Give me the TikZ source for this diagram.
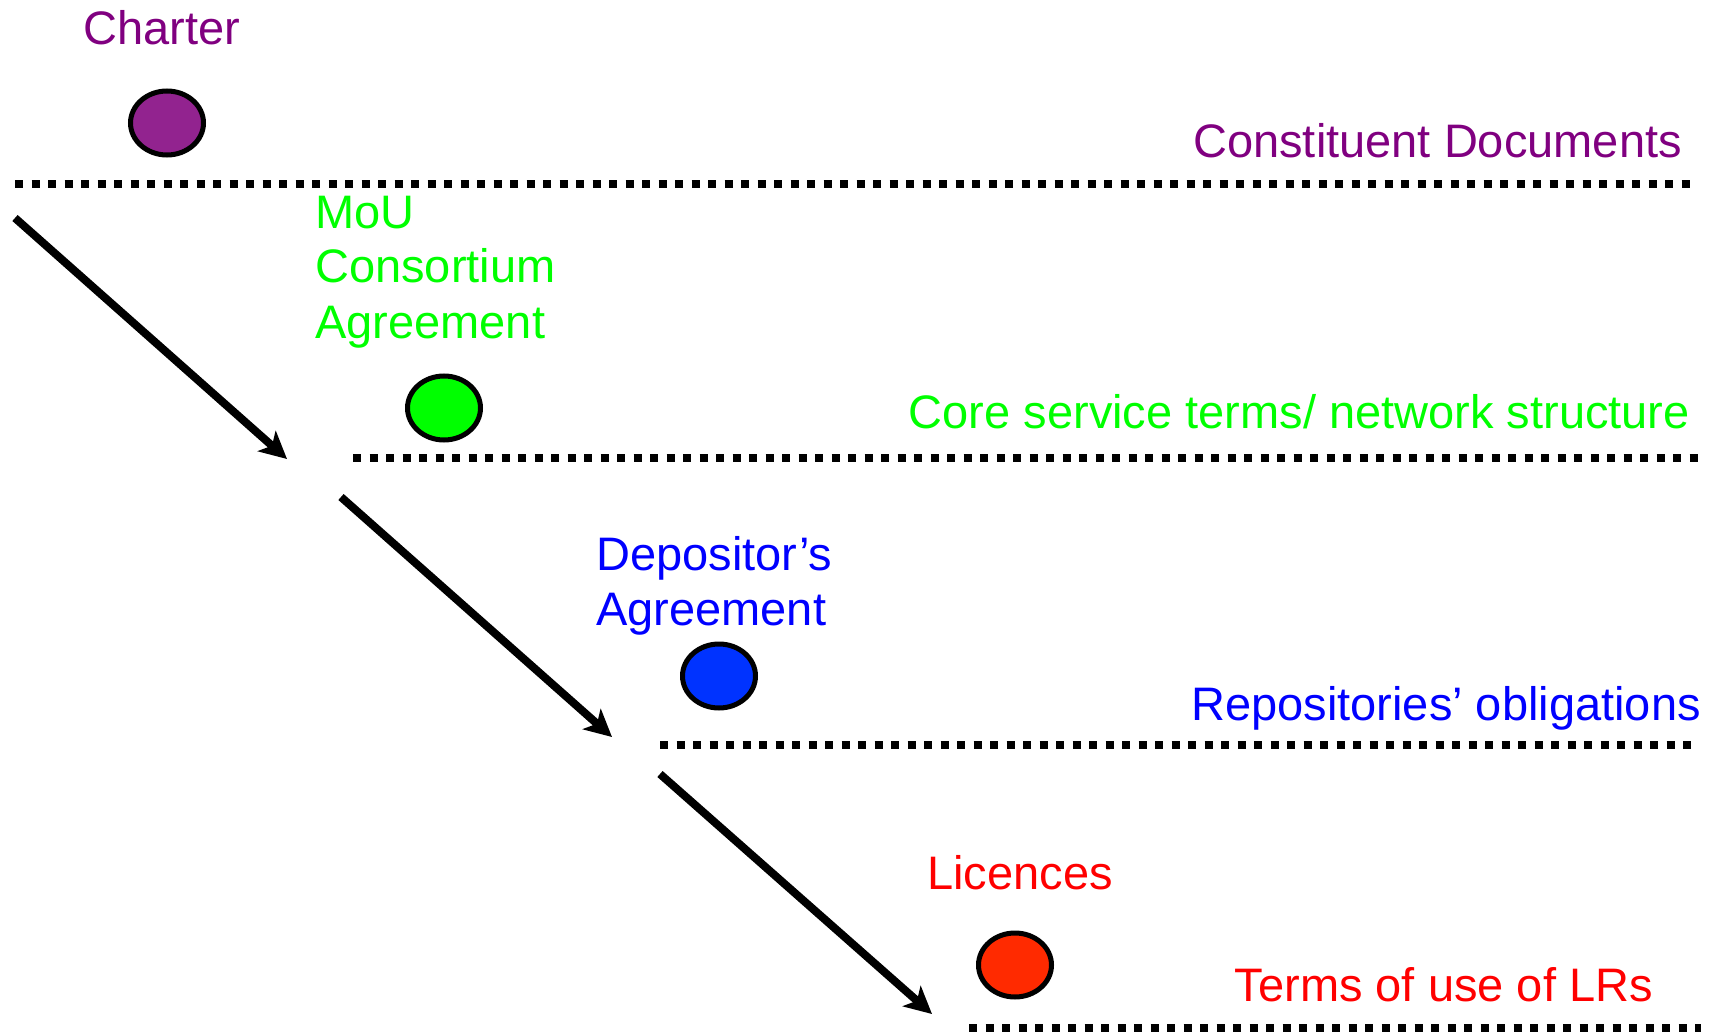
\documentclass[tikz,border=0pt]{standalone}
\usepackage{fontspec}
\setmainfont{Liberation Sans}
\usetikzlibrary{arrows.meta,shapes.geometric}
\definecolor{cpurple}{RGB}{128,0,128}
\definecolor{fpurple}{RGB}{146,35,143}
\definecolor{cgreen}{RGB}{0,255,0}
\definecolor{cblue}{RGB}{0,0,255}
\definecolor{fblue}{RGB}{0,51,255}
\definecolor{cred}{RGB}{255,0,0}
\definecolor{fred}{RGB}{255,42,0}
\tikzset{
  lbl/.style={inner sep=0pt, font=\fontsize{47}{54.5}\selectfont, align=left},
  dot/.style={draw=black, line width=5pt, ellipse, minimum width=73pt, minimum height=64pt, inner sep=0pt},
  sep/.style={line width=8pt, dash pattern=on 8pt off 8.5pt},
  flow/.style={line width=8pt, -{Stealth[length=27pt,width=27pt,inset=7pt]}}
}
\begin{document}
\begin{tikzpicture}[x=1pt,y=-1pt]
\useasboundingbox (0,0) rectangle (1719,1032);
% separator lines
\coordinate (s1a) at (15,184);  \coordinate (s1b) at (1697,184);
\coordinate (s2a) at (353,458); \coordinate (s2b) at (1701,458);
\coordinate (s3a) at (660,745); \coordinate (s3b) at (1697,745);
\coordinate (s4a) at (969,1028); \coordinate (s4b) at (1701,1028);
\draw[sep] (s1a) -- (s1b);
\draw[sep] (s2a) -- (s2b);
\draw[sep] (s3a) -- (s3b);
\draw[sep] (s4a) -- (s4b);
% dots
\node[dot, fill=fpurple] (d1) at (167,123) {};
\node[dot, fill=cgreen] (d2) at (444,408) {};
\node[dot, fill=fblue] (d3) at (719,676) {};
\node[dot, fill=fred] (d4) at (1015,965) {};
% labels
\node[lbl, text=cpurple, anchor=base west] (t1) at (83,45) {Charter};
\node[lbl, text=cpurple, anchor=base east] (r1) at (1682,158) {Constituent Documents};
\node[lbl, text=cgreen, anchor=base west] (t2a) at (315,229) {MoU};
\node[lbl, text=cgreen, anchor=base west] (t2b) at (315,283) {Consortium};
\node[lbl, text=cgreen, anchor=base west] (t2c) at (315,338) {Agreement};
\node[lbl, text=cgreen, anchor=base east] (r2) at (1690,428) {Core service terms/ network structure};
\node[lbl, text=cblue, anchor=base west] (t3a) at (596,570) {Depositor’s};
\node[lbl, text=cblue, anchor=base west] (t3b) at (596,625) {Agreement};
\node[lbl, text=cblue, anchor=base east] (r3) at (1701,720) {Repositories’ obligations};
\node[lbl, text=cred, anchor=base west] (t4) at (927,889) {Licences};
\node[lbl, text=cred, anchor=base east] (r4) at (1653,1001) {Terms of use of LRs};
% arrows
\coordinate (a1s) at (15,218);  \coordinate (a1e) at (287,459);
\coordinate (a2s) at (341,497); \coordinate (a2e) at (612,737);
\coordinate (a3s) at (660,774); \coordinate (a3e) at (932,1014);
\draw[flow] (a1s) -- (a1e);
\draw[flow] (a2s) -- (a2e);
\draw[flow] (a3s) -- (a3e);
\end{tikzpicture}
\end{document}
